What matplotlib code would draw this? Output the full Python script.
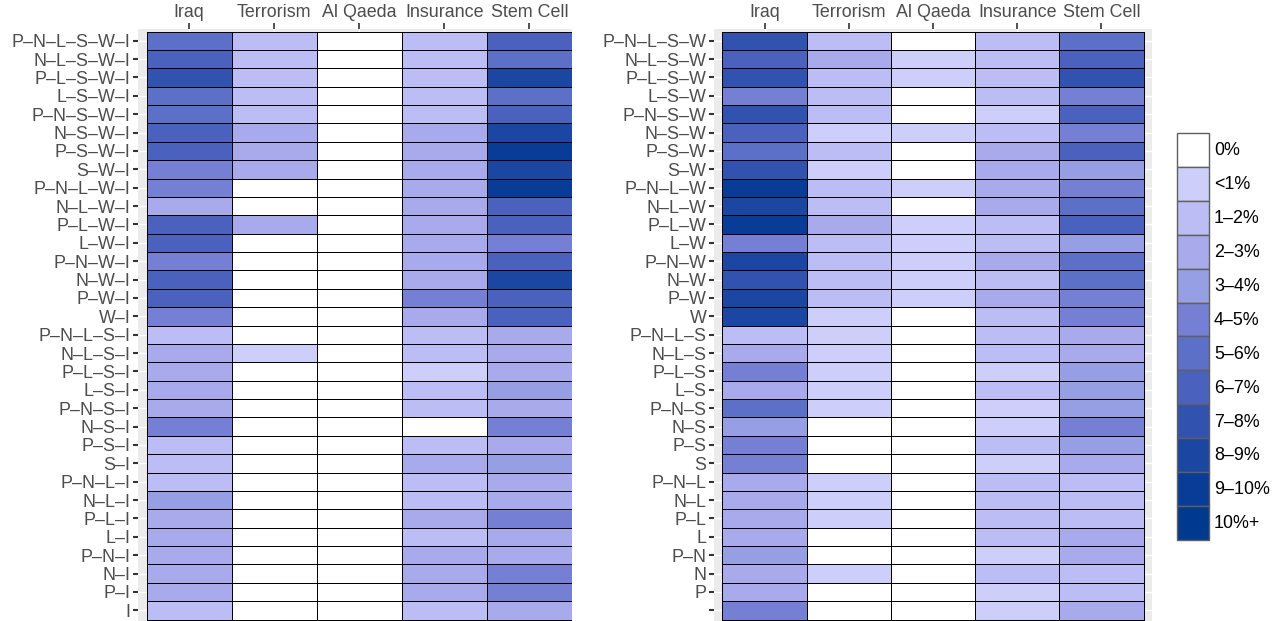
import numpy as np
import matplotlib
matplotlib.use("Agg")
import matplotlib.pyplot as plt
from matplotlib.colors import ListedColormap, BoundaryNorm
from matplotlib.patches import Patch

plt.rcParams['font.family'] = ['Liberation Sans', 'DejaVu Sans']

topics = ['Iraq', 'Terrorism', 'Al Qaeda', 'Insurance', 'Stem Cell']
level_labels = ['0%', '<1%', '1–2%', '2–3%', '3–4%', '4–5%', '5–6%',
                '6–7%', '7–8%', '8–9%', '9–10%', '10%+']
level_colors = ['#FFFFFF', '#CDCFFA', '#BDBDF5', '#A8AAEC', '#969EE4', '#7580D4',
                '#5C70C8', '#4A62BE', '#3252B0', '#1B47A2', '#083C96', '#003A8F']

rows_left = ['P–N–L–S–W–I', 'N–L–S–W–I', 'P–L–S–W–I', 'L–S–W–I', 'P–N–S–W–I',
             'N–S–W–I', 'P–S–W–I', 'S–W–I', 'P–N–L–W–I', 'N–L–W–I', 'P–L–W–I',
             'L–W–I', 'P–N–W–I', 'N–W–I', 'P–W–I', 'W–I', 'P–N–L–S–I', 'N–L–S–I',
             'P–L–S–I', 'L–S–I', 'P–N–S–I', 'N–S–I', 'P–S–I', 'S–I', 'P–N–L–I',
             'N–L–I', 'P–L–I', 'L–I', 'P–N–I', 'N–I', 'P–I', 'I']
rows_right = ['P–N–L–S–W', 'N–L–S–W', 'P–L–S–W', 'L–S–W', 'P–N–S–W', 'N–S–W',
              'P–S–W', 'S–W', 'P–N–L–W', 'N–L–W', 'P–L–W', 'L–W', 'P–N–W', 'N–W',
              'P–W', 'W', 'P–N–L–S', 'N–L–S', 'P–L–S', 'L–S', 'P–N–S', 'N–S',
              'P–S', 'S', 'P–N–L', 'N–L', 'P–L', 'L', 'P–N', 'N', 'P', '']

# level index (0 = 0%, 1 = <1%, 2 = 1-2%, ...) per row, one list per topic
left_iraq = [6, 7, 8, 6, 6, 7, 7, 5, 5, 3, 7, 7, 5, 7, 7, 5,
             2, 3, 3, 3, 3, 5, 2, 2, 2, 4, 3, 3, 3, 3, 3, 2]
left_terror = [2, 2, 2, 2, 2, 3, 3, 3, 0, 0, 3, 0, 0, 0, 0, 0,
               0, 1, 0, 0, 0, 0, 0, 0, 0, 0, 0, 0, 0, 0, 0, 0]
left_alqaeda = [0] * 32
left_insur = [2, 2, 2, 2, 2, 3, 3, 3, 3, 3, 3, 3, 3, 3, 5, 3,
              2, 2, 1, 2, 2, 0, 2, 3, 2, 2, 3, 2, 3, 3, 3, 2]
left_stem = [7, 6, 9, 6, 7, 9, 10, 9, 10, 7, 7, 5, 7, 9, 7, 7,
             3, 3, 3, 4, 3, 5, 3, 4, 3, 3, 5, 3, 3, 5, 5, 3]

right_iraq = [8, 7, 8, 5, 8, 7, 6, 8, 10, 9, 10, 5, 9, 8, 9, 9,
              2, 3, 5, 3, 6, 4, 5, 5, 3, 3, 3, 3, 4, 3, 3, 5]
right_terror = [2, 3, 2, 2, 2, 1, 2, 1, 2, 2, 3, 2, 2, 2, 2, 1,
                1, 1, 1, 1, 1, 0, 0, 0, 1, 1, 1, 0, 0, 1, 0, 0]
right_alqaeda = [0, 1, 1, 0, 0, 1, 0, 0, 1, 0, 1, 1, 1, 1, 1, 0,
                 0, 0, 0, 0, 0, 0, 0, 0, 0, 0, 0, 0, 0, 0, 0, 0]
right_insur = [2, 2, 2, 2, 1, 2, 3, 3, 3, 3, 2, 2, 3, 2, 3, 2,
               2, 2, 1, 2, 1, 1, 2, 1, 2, 2, 2, 2, 1, 2, 1, 1]
right_stem = [6, 7, 8, 5, 7, 5, 7, 4, 5, 6, 7, 4, 6, 6, 5, 5,
              3, 3, 4, 4, 4, 5, 4, 3, 2, 2, 2, 3, 3, 2, 2, 3]

cmap = ListedColormap(level_colors)
norm = BoundaryNorm(np.arange(-0.5, len(level_colors) + 0.5, 1), cmap.N)

W, H = 1280, 621
fig = plt.figure(figsize=(W / 100, H / 100), dpi=100)

txt_color = '#4D4D4D'
fs = 12.9


def panel(rect, rows, data, xlim):
    ax = fig.add_axes(rect)
    ax.set_facecolor('#EBEBEB')
    M = np.array(data).T  # rows x topics
    nr, nc = M.shape
    xe = np.arange(nc + 1) - 0.5
    ye = np.arange(nr + 1) - 0.5
    ax.pcolormesh(xe, ye, M, cmap=cmap, norm=norm, edgecolors='black',
                  linewidth=0.7, zorder=2)
    ax.set_xlim(*xlim)
    ax.set_ylim(nr - 0.42, -0.62)
    ax.set_xticks(np.arange(nc))
    ax.set_xticklabels(topics)
    ax.set_yticks(np.arange(nr))
    ax.set_yticklabels(rows)
    ax.xaxis.tick_top()
    ax.tick_params(axis='x', length=4.5, width=1.2, color='#333333',
                   labelsize=fs, labelcolor=txt_color, pad=1.5)
    ax.tick_params(axis='y', length=3.5, width=1.5, color='#333333',
                   labelsize=fs, labelcolor=txt_color, pad=2)
    ax.grid(True, color='white', linewidth=1.0, zorder=1)
    ax.set_axisbelow(True)
    for s in ax.spines.values():
        s.set_visible(False)
    return ax


top = 1 - 29.3 / H
panel([138 / W, 0, (572 - 138) / W, top], rows_left,
      [left_iraq, left_terror, left_alqaeda, left_insur, left_stem], (-0.6, 4.5))
panel([714 / W, 0, (1152 - 714) / W, top], rows_right,
      [right_iraq, right_terror, right_alqaeda, right_insur, right_stem], (-0.6, 4.6))

fpx = fs * 100 / 72
key_h = 33.9 / fpx            # wanted key height in font-size units
hh = (key_h - 0.245) / 0.65   # compensate for matplotlib's handle descent
handles = [Patch(facecolor=c, edgecolor='#5F5F5F', linewidth=1.0) for c in level_colors]
leg = fig.legend(handles, level_labels, loc='upper left',
                 bbox_to_anchor=(1177 / W, 1 - 133 / H), frameon=False,
                 fontsize=fs, labelspacing=0.0, handlelength=32 / fpx,
                 handleheight=hh, handletextpad=5 / fpx, borderpad=0.0,
                 borderaxespad=0.0, labelcolor='black')

fig.savefig('out.png', dpi=100)
